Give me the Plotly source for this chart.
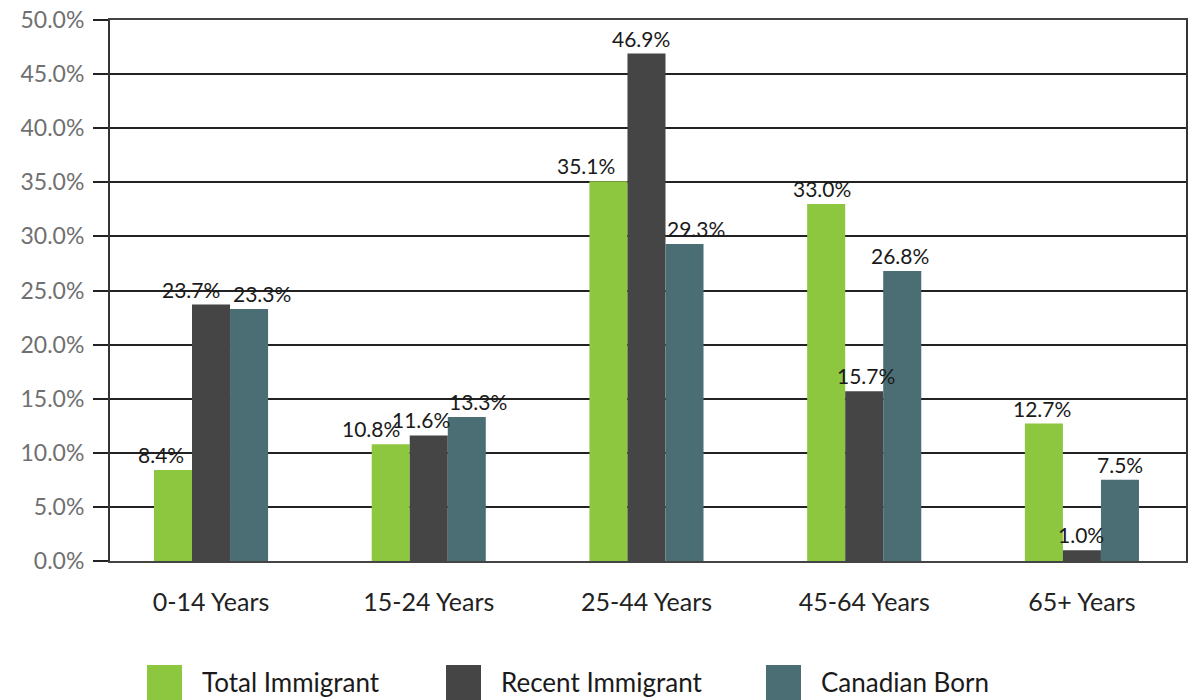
import plotly.graph_objects as go

categories = ["0-14 Years", "15-24 Years", "25-44 Years", "45-64 Years", "65+ Years"]
series_names = ["Total Immigrant", "Recent Immigrant", "Canadian Born"]
total_immigrant = [8.4, 10.8, 35.1, 33.0, 12.7]
recent_immigrant = [23.7, 11.6, 46.9, 15.7, 1.0]
canadian_born = [23.3, 13.3, 29.3, 26.8, 7.5]
colors = ["#8DC63F", "#454545", "#4A6E74"]
y_ticks = [0, 5, 10, 15, 20, 25, 30, 35, 40, 45, 50]

# label nudges (pixels) per series, to keep value labels apart as in the original
label_nudge = [[-12, -20, -22, -4, -2], [-20, -8, -5, 2, -1], [13, 11, 12, -2, 0]]
bar_px = 38  # width of one bar in pixels (for label placement)

FONT = "Lato"
fig = go.Figure()
all_vals = [total_immigrant, recent_immigrant, canadian_born]
for name, vals, col in zip(series_names, all_vals, colors):
    fig.add_trace(go.Bar(
        x=categories, y=vals, name=name,
        marker=dict(color=col, line=dict(width=0)),
        showlegend=False,
        hovertemplate="%{x}<br>" + name + ": %{y:.1f}%<extra></extra>",
    ))

for si, vals in enumerate(all_vals):
    for ci, v in enumerate(vals):
        fig.add_annotation(
            x=categories[ci], y=v, xref="x", yref="y",
            text=f"{v:.1f}%", showarrow=False,
            xanchor="center", yanchor="bottom",
            xshift=(si - 1) * bar_px + label_nudge[si][ci], yshift=1,
            font=dict(family=FONT, size=21, color="#1a1a1a"),
        )

fig.update_layout(
    width=1192, height=700,
    margin=dict(l=110, r=6, t=20, b=139),
    paper_bgcolor="white", plot_bgcolor="white",
    barmode="group", bargap=0.476, bargroupgap=0,
    font=dict(family=FONT),
    showlegend=False,
)
fig.update_xaxes(
    range=[-0.464, 4.478], automargin=False,
    showline=True, linecolor="#444444", linewidth=2, mirror=True,
    ticks="", showgrid=False,
    tickfont=dict(family=FONT, size=25, color="#222222"),
    ticklabelstandoff=18,
)
fig.update_yaxes(
    range=[0, 50], tickvals=y_ticks, automargin=False,
    ticktext=[f"{v:.1f}%" for v in y_ticks],
    showline=True, linecolor="#333333", linewidth=2, mirror=True,
    showgrid=True, gridcolor="#222222", gridwidth=1.5,
    ticks="outside", ticklen=15, tickcolor="#222222", tickwidth=1.5,
    tickfont=dict(family=FONT, size=23, color="#707070"),
    ticklabelstandoff=4,
    zeroline=False,
)

# Manual legend (large square swatches)
legend_x = [147, 446, 766]
for name, col, lx in zip(series_names, colors, legend_x):
    fig.add_shape(type="rect", xref="paper", yref="paper",
                  x0=(lx - 110) / 1076, x1=(lx + 35 - 110) / 1076,
                  y0=(561 - 700) / 541, y1=(561 - 665) / 541,
                  fillcolor=col, line=dict(width=0), layer="above")
    fig.add_annotation(xref="paper", yref="paper",
                       x=(lx + 53 - 110) / 1076, y=(561 - 682) / 541,
                       text=name, showarrow=False, xanchor="left", yanchor="middle",
                       font=dict(family=FONT, size=26, color="#1a1a1a"))

fig.write_html("out.html", config={"displayModeBar": False},
               post_script="document.body.style.margin='0';document.body.style.overflow='hidden';")
